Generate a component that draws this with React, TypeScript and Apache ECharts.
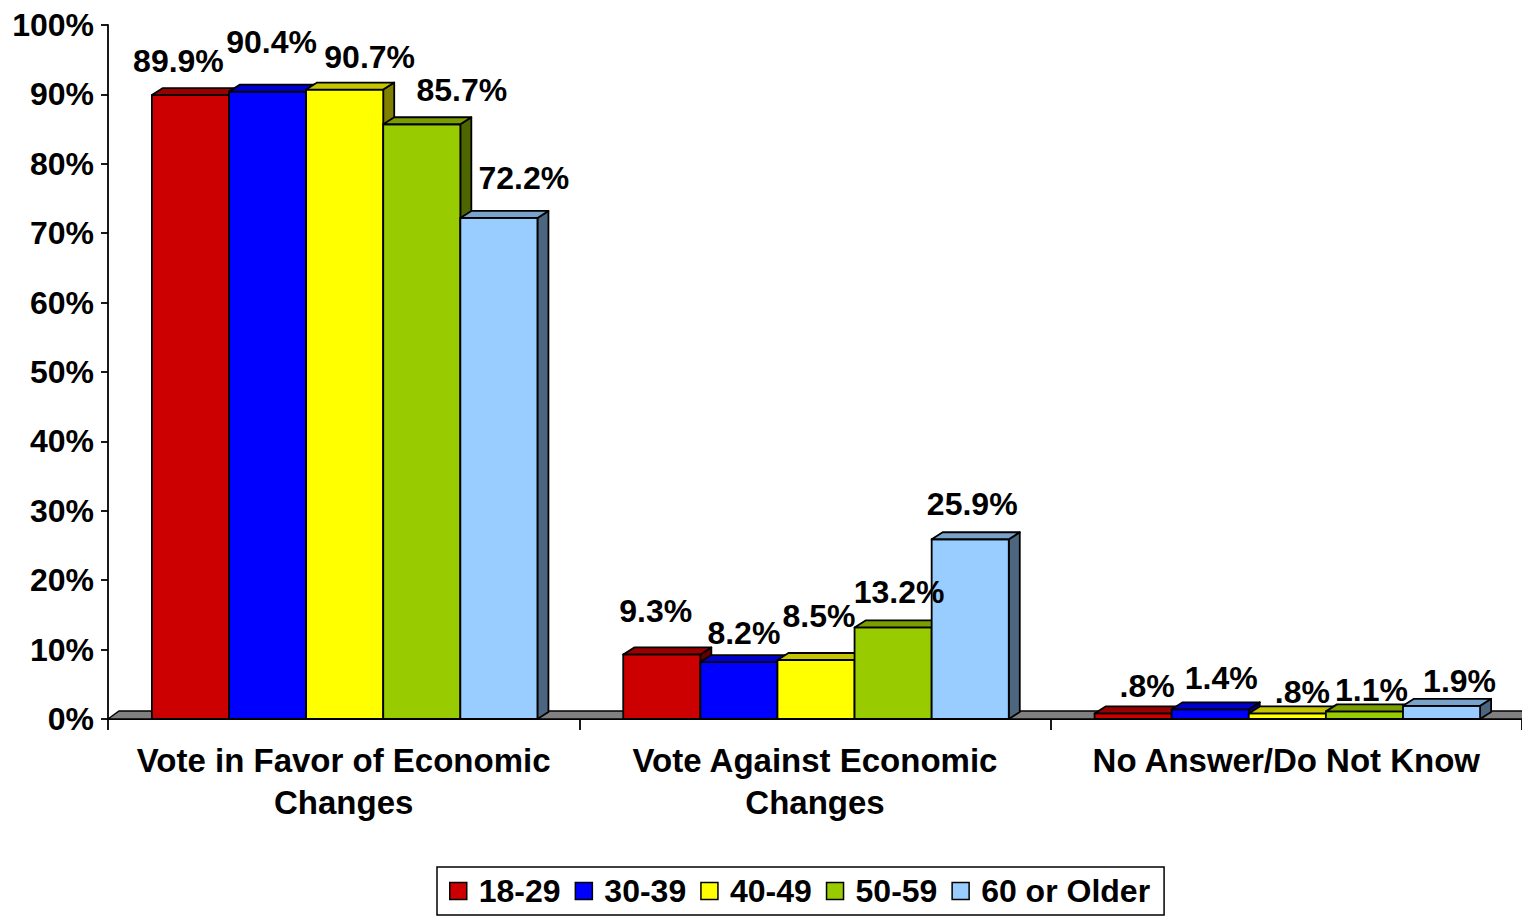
import React, { useEffect, useRef } from "react";
import * as echarts from "echarts";

const categories = [
  "Vote in Favor of Economic\nChanges",
  "Vote Against Economic\nChanges",
  "No Answer/Do Not Know",
];
const seriesNames = ["18-29", "30-39", "40-49", "50-59", "60 or Older"];
const age18to29 = [89.9, 9.3, 0.8];
const age30to39 = [90.4, 8.2, 1.4];
const age40to49 = [90.7, 8.5, 0.8];
const age50to59 = [85.7, 13.2, 1.1];
const age60plus = [72.2, 25.9, 1.9];
const seriesValues = [age18to29, age30to39, age40to49, age50to59, age60plus];

// face colours: front, top, side
const palette = [
  ["#CC0000", "#990000", "#660000"],
  ["#0000FF", "#0000CC", "#000080"],
  ["#FFFF00", "#C4C400", "#808000"],
  ["#99CC00", "#7A9E00", "#4D6600"],
  ["#99CCFF", "#7AA3CC", "#4D6680"],
];

// label nudges [dx, dy] per series per category (layout only)
const labelNudge = [
  [[-18, 0], [-12, -9], [8, 7]],
  [[-2, -16], [-1, 5], [5, 3]],
  [[19, 1], [-3, -10], [9, 13]],
  [[34, 0], [0, -1], [1, 13]],
  [[19, -6], [-4, -1], [12, 9]],
];

const DX = 11;
const DY = 7;
const FONT = '"Liberation Sans", Arial, Helvetica, sans-serif';

function fmt(v: number) {
  const s = v.toFixed(1);
  return (v < 1 ? s.replace(/^0/, "") : s) + "%";
}

function makeRender(i: number) {
  return (params: any, api: any) => {
    const cat = api.value(0);
    const val = api.value(1);
    const top = api.coord([cat, val]);
    const base = api.coord([cat, 0]);
    const catW = api.size([1, 0])[0];
    const bw = catW * 0.1636;
    const x0 = top[0] + (i - 2.5) * bw + 1;
    const x1 = x0 + bw;
    const yT = top[1];
    const y0 = base[1];
    const [cf, ct, cs] = palette[i];
    const stroke = { stroke: "#000", lineWidth: 1.8, lineJoin: "round" };
    const nudge = labelNudge[i][cat];
    return {
      type: "group",
      children: [
        {
          type: "polygon",
          z2: i * 3,
          shape: { points: [[x1, yT], [x1 + DX, yT - DY], [x1 + DX, y0 - DY], [x1, y0]] },
          style: { fill: cs, ...stroke },
        },
        {
          type: "rect",
          z2: i * 3 + 1,
          shape: { x: x0, y: yT, width: bw, height: y0 - yT },
          style: { fill: cf, ...stroke },
        },
        {
          type: "polygon",
          z2: i * 3 + 2,
          shape: { points: [[x0, yT], [x0 + DX, yT - DY], [x1 + DX, yT - DY], [x1, yT]] },
          style: { fill: ct, ...stroke },
        },
        {
          type: "text",
          z2: 1000,
          x: (x0 + x1) / 2 + 6 + nudge[0],
          y: yT - 34 + nudge[1],
          style: {
            text: fmt(val),
            fill: "#000",
            font: `bold 32px ${FONT}`,
            align: "center",
            verticalAlign: "middle",
          },
        },
      ],
    };
  };
}

export default function App() {
  const ref = useRef<HTMLDivElement>(null);
  useEffect(() => {
    if (!ref.current) return;
    const chart = echarts.init(ref.current, null, { renderer: "svg" });
    const floorSeries: any = {
      type: "custom",
      name: "floor",
      z: 1,
      data: [[0, 0]],
      encode: { x: 0, y: 1 },
      renderItem: (params: any) => {
        const cs = params.coordSys;
        const yb = cs.y + cs.height;
        return {
          type: "polygon",
          shape: {
            points: [
              [cs.x, yb],
              [cs.x + DX, yb - 8],
              [cs.x + cs.width + DX, yb - 8],
              [cs.x + cs.width, yb],
            ],
          },
          style: { fill: "#808080", stroke: "#000", lineWidth: 1.5 },
        };
      },
    };
    const barSeries = seriesNames.map((name, i) => ({
      type: "custom",
      name,
      z: 2,
      itemStyle: { color: palette[i][0], borderColor: "#000", borderWidth: 1.5 },
      data: seriesValues[i].map((v, j) => [j, v]),
      encode: { x: 0, y: 1 },
      renderItem: makeRender(i),
    }));
    chart.setOption({
      animation: false,
      backgroundColor: "#fff",
      grid: { left: 108, top: 25, width: 1416, height: 694 },
      xAxis: {
        type: "category",
        data: categories,
        boundaryGap: true,
        axisLine: { lineStyle: { color: "#000", width: 1.8 } },
        axisTick: { show: true, length: 11, interval: 0, lineStyle: { color: "#000", width: 1.8 } },
        axisLabel: {
          interval: 0,
          margin: 20,
          color: "#000",
          fontFamily: FONT,
          fontWeight: "bold",
          fontSize: 33,
          lineHeight: 42,
        },
      },
      yAxis: {
        type: "value",
        min: 0,
        max: 100,
        interval: 10,
        splitLine: { show: false },
        axisLine: { show: true, lineStyle: { color: "#000", width: 1.8 } },
        axisTick: { show: true, length: 7, lineStyle: { color: "#000", width: 1.8 } },
        axisLabel: {
          formatter: "{value}%",
          margin: 14,
          color: "#000",
          fontFamily: FONT,
          fontWeight: "bold",
          fontSize: 32,
        },
      },
      legend: {
        data: seriesNames,
        left: 437,
        top: 867,
        icon: "rect",
        itemWidth: 17,
        itemHeight: 17,
        itemGap: 14,
        padding: [8, 14, 8, 12],
        borderColor: "#000",
        borderWidth: 1.5,
        backgroundColor: "#fff",
        itemStyle: { borderColor: "#000", borderWidth: 1.5 },
        textStyle: {
          color: "#000",
          fontFamily: FONT,
          fontWeight: "bold",
          fontSize: 32,
          padding: [0, 0, 0, 7],
        },
      },
      series: [floorSeries, ...barSeries],
    });
    return () => chart.dispose();
  }, []);
  return (
    <div
      ref={ref}
      style={{ position: "fixed", left: 0, top: 0, width: 1522, height: 921 }}
    />
  );
}
